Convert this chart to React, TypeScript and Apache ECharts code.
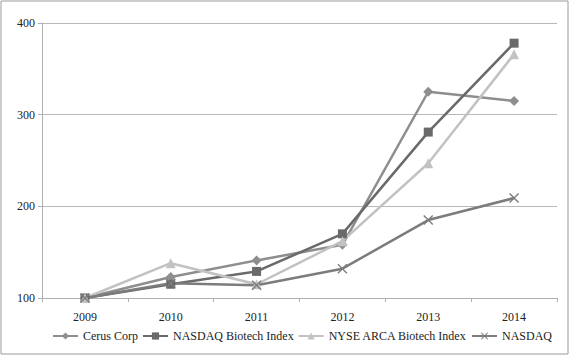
import React, { useEffect, useRef } from "react";
import * as echarts from "echarts";

const categories = ["2009", "2010", "2011", "2012", "2013", "2014"];
const seriesNames = ["Cerus Corp", "NASDAQ Biotech Index", "NYSE ARCA Biotech Index", "NASDAQ"];
const cerus = [100, 123, 141, 158, 325, 315];
const nasdaqBiotech = [100, 115, 129, 170, 281, 378];
const nyseArca = [100, 138, 115, 162, 247, 366];
const nasdaq = [100, 116, 114, 132, 185, 209];
const yTicks = [100, 200, 300, 400];

const FONT = "Liberation Serif";
const XMARK = "path://M0,1L1,0L5,4L9,0L10,1L6,5L10,9L9,10L5,6L1,10L0,9L4,5Z";

export default function App() {
  const ref = useRef<HTMLDivElement>(null);
  useEffect(() => {
    if (!ref.current) return;
    const chart = echarts.init(ref.current, undefined, { renderer: "svg" });
    const mk = (name: string, data: number[], color: string, symbol: string, size: number) => ({
      name,
      type: "line",
      data,
      symbol,
      symbolSize: size,
      showSymbol: true,
      lineStyle: { color, width: 2.5 },
      itemStyle: { color },
      emphasis: { disabled: true },
    });
    chart.setOption({
      animation: false,
      textStyle: { fontFamily: FONT },
      graphic: [
        {
          type: "rect",
          shape: { x: 1, y: 1, width: 567, height: 353 },
          style: { fill: "none", stroke: "#9a9a9a", lineWidth: 1 },
          silent: true,
        },
      ],
      grid: { left: 42, right: 13, top: 23, bottom: 59, containLabel: false },
      legend: {
        data: seriesNames,
        left: 52,
        top: 330,
        width: 515,
        padding: 0,
        itemWidth: 25,
        itemHeight: 9,
        itemGap: 4,
        textStyle: { fontFamily: FONT, fontSize: 12, color: "#222" },
      },
      xAxis: {
        type: "category",
        data: categories,
        boundaryGap: true,
        axisLine: { lineStyle: { color: "#b0b0b0", width: 1 } },
        axisTick: { show: true, length: 4, lineStyle: { color: "#b0b0b0" } },
        axisLabel: { fontFamily: FONT, fontSize: 12, color: "#222", margin: 13 },
        splitLine: { show: false },
      },
      yAxis: {
        type: "value",
        min: yTicks[0],
        max: yTicks[yTicks.length - 1],
        interval: 100,
        axisLine: { show: true, lineStyle: { color: "#b0b0b0", width: 1 } },
        axisTick: { show: true, length: 4, lineStyle: { color: "#b0b0b0" } },
        axisLabel: { fontFamily: FONT, fontSize: 12, color: "#222", margin: 7 },
        splitLine: { show: true, lineStyle: { color: "#b8b8b8", width: 1 } },
      },
      series: [
        mk(seriesNames[0], cerus, "#8e8e8e", "diamond", 10),
        mk(seriesNames[1], nasdaqBiotech, "#6a6a6a", "rect", 9),
        mk(seriesNames[2], nyseArca, "#c2c2c2", "triangle", 10),
        mk(seriesNames[3], nasdaq, "#7c7c7c", XMARK, 10),
      ],
    });
    return () => chart.dispose();
  }, []);
  return (
    <div
      ref={ref}
      style={{ position: "fixed", left: 0, top: 0, width: 570, height: 357, background: "#fff" }}
    />
  );
}
